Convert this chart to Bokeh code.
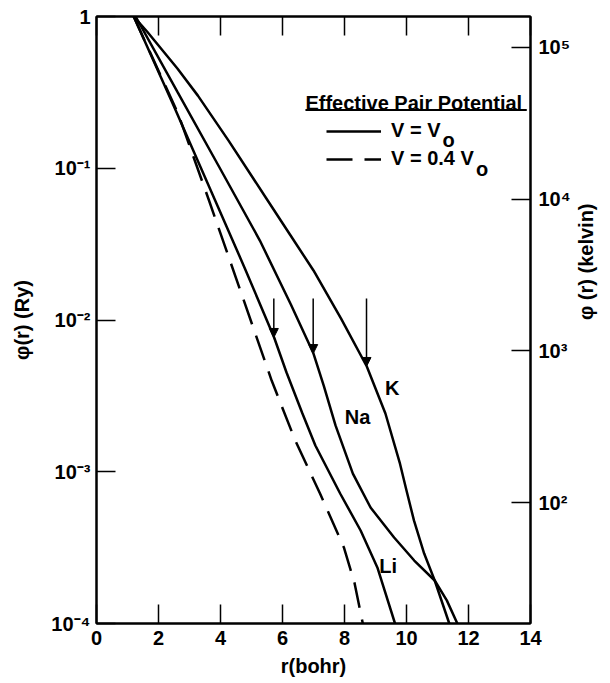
import math
from bokeh.plotting import figure
from bokeh.models import (LinearAxis, LogAxis, Range1d, LogScale, FixedTicker,
                          CustomJSTickFormatter, Label, Arrow, NormalHead,
                          BoxAnnotation, Legend, LegendItem)
from bokeh.embed import file_html
from bokeh.resources import INLINE

# ---------------- data ----------------
r_K = [1.20, 1.63, 2.61, 3.27, 4.26, 5.48, 6.24, 7.00, 7.89, 8.72, 9.32, 9.79, 10.00, 10.24, 10.57, 10.91, 11.38]
phi_K = [1.0, 0.796, 0.454, 0.301, 0.152, 0.0632, 0.0366, 0.0212, 0.0102, 0.00494, 0.00242, 0.00113,
         0.000752, 0.000478, 0.000289, 0.000192, 0.0001]

r_Na = [1.26, 2.62, 3.95, 5.27, 6.27, 7.00, 7.33, 7.71, 8.27, 8.84, 9.60, 10.25, 10.91, 11.30, 11.64]
phi_Na = [1.0, 0.316, 0.1027, 0.0334, 0.01265, 0.00601, 0.00370, 0.00202, 0.000973, 0.000581,
          0.000369, 0.000260, 0.000192, 0.000142, 0.0001]

r_Li = [1.20, 2.50, 3.80, 4.79, 5.73, 6.13, 6.63, 7.06, 7.86, 8.52, 9.06, 9.63]
phi_Li = [1.0, 0.255, 0.0632, 0.0218, 0.00767, 0.00451, 0.00246, 0.00149, 0.000719, 0.000410,
          0.000234, 0.0001]

r_Li_04 = [1.20, 2.63, 3.63, 4.64, 5.65, 6.41, 7.21, 7.98, 8.32, 8.59]
phi_Li_04 = [1.0, 0.2296, 0.0613, 0.01565, 0.00399, 0.00161, 0.000719, 0.000317, 0.000186, 0.0001]

# nearest-neighbour arrows (Li, Na, K)
arrow_r = [5.72, 6.99, 8.71]
arrow_tip = [0.00767, 0.00601, 0.00494]
arrow_tail = 0.01386

curve_names = ["K", "Na", "Li"]
curve_label_r = [9.54, 8.42, 9.41]
curve_label_phi = [0.00354, 0.00231, 0.000241]

x_ticks = [0, 2, 4, 6, 8, 10, 12, 14]
ry_ticks = [1e-4, 1e-3, 1e-2, 1e-1, 1.0]
kelvin_ticks = [1e2, 1e3, 1e4, 1e5]
RY_TO_K = 1.6e5

FONT = "Liberation Sans"

p = figure(width=610, height=683, output_backend="svg", toolbar_location=None,
           x_range=Range1d(0, 14), y_range=Range1d(1e-4, 1.0), y_axis_type="log",
           x_axis_location=None, y_axis_location=None,
           min_border_left=96, min_border_right=80, min_border_top=16, min_border_bottom=60)
p.grid.visible = False
p.outline_line_color = "black"
p.outline_line_width = 2
p.background_fill_color = "white"
p.border_fill_color = "white"

p.extra_y_ranges = {"kelvin": Range1d(1e-4 * RY_TO_K, 1.0 * RY_TO_K)}
p.extra_y_scales = {"kelvin": LogScale()}

sup_code = r"""
const e = Math.round(Math.log10(tick));
if (e === 0) { return "1"; }
const m = {"-": "\u207B", "0": "\u2070", "1": "\u00B9", "2": "\u00B2", "3": "\u00B3",
           "4": "\u2074", "5": "\u2075", "6": "\u2076", "7": "\u2077", "8": "\u2078", "9": "\u2079"};
return "10" + String(e).split("").map(c => m[c]).join("");
"""


def style(ax, label_size="20px"):
    ax.axis_line_width = 2
    ax.axis_line_color = "black"
    ax.major_tick_in = 19
    ax.major_tick_out = 0
    ax.major_tick_line_width = 1.5
    ax.minor_tick_line_color = None
    ax.major_label_text_font = FONT
    ax.major_label_text_font_style = "bold"
    ax.major_label_text_font_size = label_size
    ax.major_label_text_color = "black"
    ax.axis_label_text_font = FONT
    ax.axis_label_text_font_style = "bold"
    ax.axis_label_text_font_size = "20px"
    ax.axis_label_text_color = "black"


xb = LinearAxis(ticker=FixedTicker(ticks=x_ticks), axis_label="r(bohr)")
style(xb)
xb.major_label_standoff = 7
xb.axis_label_standoff = 7
p.add_layout(xb, "below")

xt = LinearAxis(ticker=FixedTicker(ticks=x_ticks))
style(xt)
xt.major_label_text_color = None
xt.major_label_text_font_size = "1px"
xt.major_label_standoff = 0
p.add_layout(xt, "above")

yl = LogAxis(ticker=FixedTicker(ticks=ry_ticks), axis_label="\u03c6(r) (Ry)",
             formatter=CustomJSTickFormatter(code=sup_code))
style(yl)
yl.major_label_standoff = 6
yl.axis_label_standoff = 15
p.add_layout(yl, "left")

yr = LogAxis(y_range_name="kelvin", ticker=FixedTicker(ticks=kelvin_ticks),
             formatter=CustomJSTickFormatter(code=sup_code),
             axis_label="\u03c6 (r) (kelvin)")
style(yr)
yr.major_label_standoff = 8
yr.axis_label_standoff = 12
try:
    yr.axis_label_orientation = math.pi / 2
except Exception:
    pass
p.add_layout(yr, "right")

# ---------------- curves ----------------
LW = 2.5
rK = p.line(r_K, phi_K, line_color="black", line_width=LW)
rNa = p.line(r_Na, phi_Na, line_color="black", line_width=LW)
rLi = p.line(r_Li, phi_Li, line_color="black", line_width=LW)
rLi04 = p.line(r_Li_04, phi_Li_04, line_color="black", line_width=LW, line_dash="26 12")

for xr, tip in zip(arrow_r, arrow_tip):
    p.add_layout(Arrow(x_start=xr, y_start=arrow_tail, x_end=xr, y_end=tip,
                       line_width=1.5, line_color="black",
                       end=NormalHead(size=9, fill_color="black", line_color="black", line_width=1)))

for name, xr, yv in zip(curve_names, curve_label_r, curve_label_phi):
    p.add_layout(Label(x=xr, y=yv, text=name, text_align="center", text_baseline="middle",
                       text_font=FONT, text_font_style="bold", text_font_size="20px",
                       text_color="black"))

# ---------------- legend ----------------
p.add_layout(Label(x=6.74, y=0.271, text="Effective Pair Potential", text_align="left",
                   text_baseline="alphabetic", text_font=FONT, text_font_style="bold",
                   text_font_size="20px", text_color="black"))
p.add_layout(BoxAnnotation(left=6.74, right=13.88, top=0.2457, bottom=0.2384,
                           fill_color="black", fill_alpha=1.0, line_color=None))

legend = Legend(items=[LegendItem(label="V = V", renderers=[rK]),
                       LegendItem(label="V = 0.4 V", renderers=[rLi04])],
                location=(230, 453), orientation="vertical",
                glyph_width=55, glyph_height=20, label_height=20, label_standoff=10,
                spacing=5, padding=0, margin=0,
                border_line_color=None, background_fill_alpha=0,
                label_text_font=FONT, label_text_font_style="bold",
                label_text_font_size="20px", label_text_color="black")
p.add_layout(legend)

for xs, ys in [(11.16, 0.1524), (12.24, 0.0996)]:
    p.add_layout(Label(x=xs, y=ys, text="o", text_align="left", text_baseline="alphabetic",
                       text_font=FONT, text_font_style="bold", text_font_size="20px",
                       text_color="black"))

open("out.html", "w").write(file_html(p, INLINE))
